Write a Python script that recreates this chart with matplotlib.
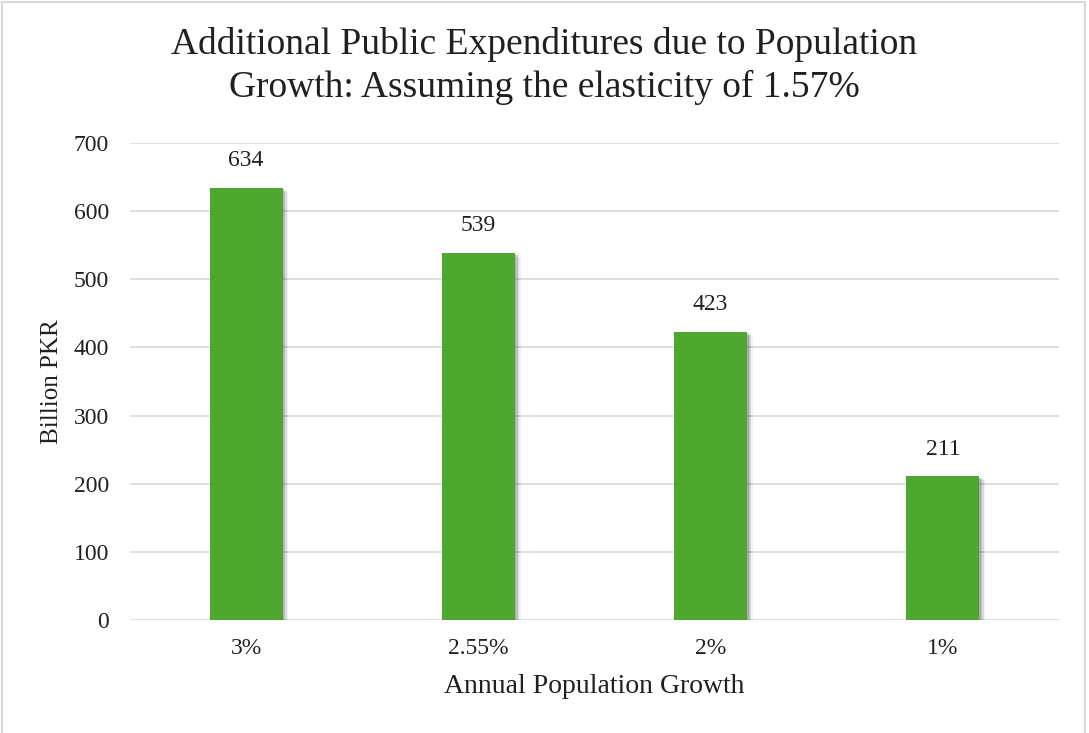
import matplotlib
matplotlib.use("Agg")
import matplotlib.pyplot as plt
import matplotlib.patheffects as pe
from matplotlib.lines import Line2D

categories = ["3%", "2.55%", "2%", "1%"]
values = [634, 539, 423, 211]
yticks = [0, 100, 200, 300, 400, 500, 600, 700]
title = "Additional Public Expenditures due to Population\nGrowth: Assuming the elasticity of 1.57%"
xlabel = "Annual Population Growth"
ylabel = "Billion PKR"

plt.rcParams['font.family'] = ['Liberation Serif', 'DejaVu Serif']

W, H = 1089, 733
fig = plt.figure(figsize=(W / 100, H / 100), dpi=100)
ax = fig.add_axes([130 / W, 1 - 620 / H, (1059 - 130) / W, (620 - 143) / H])

green = '#4EA72E'
shadow = [
    pe.SimplePatchShadow(offset=(4, -3), shadow_rgbFace='black', alpha=0.06),
    pe.SimplePatchShadow(offset=(3, -2), shadow_rgbFace='black', alpha=0.09),
    pe.SimplePatchShadow(offset=(2, -1.5), shadow_rgbFace='black', alpha=0.11),
    pe.SimplePatchShadow(offset=(1, -1), shadow_rgbFace='black', alpha=0.11),
    pe.Normal(),
]
x = list(range(len(categories)))
bars = ax.bar(x, values, width=0.315, color=green, zorder=3)
for b in bars:
    b.set_path_effects(shadow)

for xi, v in zip(x, values):
    ax.annotate(str(v), (xi, v), xytext=(0, 12), textcoords='offset points',
                ha='center', va='bottom', fontsize=17, color='#202020')

ax.set_xlim(-0.5, len(categories) - 0.5)
ax.set_ylim(0, 700)
ax.set_yticks(yticks)
ax.set_xticks(x)
ax.set_xticklabels(categories)
ax.tick_params(axis='both', length=0, labelsize=17, colors='#202020')
ax.tick_params(axis='y', pad=15)
ax.tick_params(axis='x', pad=13)
ax.grid(axis='y', color='#D9D9D9', linewidth=1.2, zorder=0)
for s in ax.spines.values():
    s.set_visible(False)

ax.set_xlabel(xlabel, fontsize=20, color='#202020', labelpad=11)
ax.set_ylabel(ylabel, fontsize=18, color='#202020', labelpad=8)

fig.text(0.5, 1 - 66 / H, title, ha='center', va='center', fontsize=27,
         color='#202020', linespacing=1.3)

# outer chart border
bc = '#D9D9D9'
fig.add_artist(Line2D([2 / W, 2 / W], [0, 1 - 2 / H], color=bc, lw=1.5, transform=fig.transFigure))
fig.add_artist(Line2D([2 / W, 1085 / W], [1 - 2 / H, 1 - 2 / H], color=bc, lw=1.5, transform=fig.transFigure))
fig.add_artist(Line2D([1085 / W, 1085 / W], [0, 1 - 2 / H], color=bc, lw=1.5, transform=fig.transFigure))

fig.savefig("out.png", dpi=100)
